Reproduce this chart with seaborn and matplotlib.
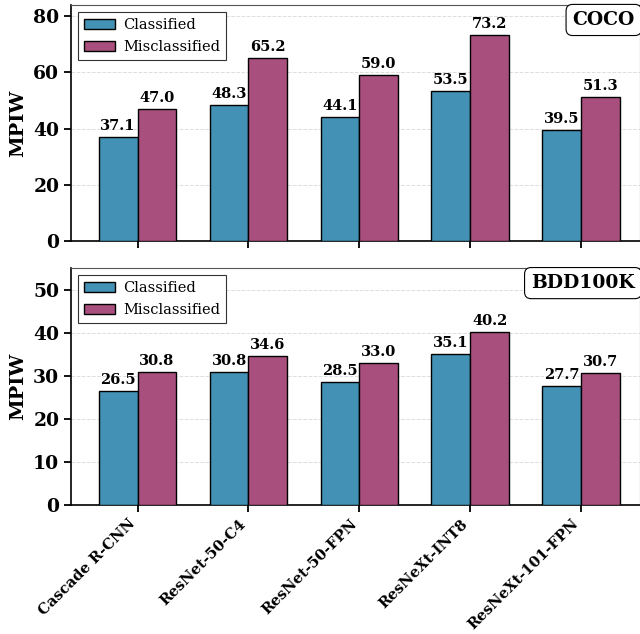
import pandas as pd
import numpy as np
import matplotlib.pyplot as plt
import seaborn as sns

sns.set_style("ticks")
plt.rcParams['font.family'] = ['DejaVu Serif']
plt.rcParams['text.color'] = 'black'
plt.rcParams['xtick.color'] = 'black'
plt.rcParams['ytick.color'] = 'black'
plt.rcParams['axes.labelcolor'] = 'black'

# Data
models = ['Cascade R-CNN', 'ResNet-50-C4', 'ResNet-50-FPN', 'ResNeXt-INT8', 'ResNeXt-101-FPN']
coco_classified = [37.1, 48.3, 44.1, 53.5, 39.5]
coco_misclassified = [47.0, 65.2, 59.0, 73.2, 51.3]
bdd_classified = [26.5, 30.8, 28.5, 35.1, 27.7]
bdd_misclassified = [30.8, 34.6, 33.0, 40.2, 30.7]

colors = ['#4391b5', '#a94f7e']

fig = plt.figure(figsize=(6.4, 6.34), dpi=100)
ax1 = fig.add_axes([0.111, 0.620, 0.889, 0.372])
ax2 = fig.add_axes([0.111, 0.2035, 0.889, 0.3735])

panels = [
    (ax1, coco_classified, coco_misclassified, 'COCO', 84),
    (ax2, bdd_classified, bdd_misclassified, 'BDD100K', 55),
]

for ax, cls, mis, name, ymax in panels:
    df = pd.DataFrame({
        'Model': models * 2,
        'MPIW': cls + mis,
        'Type': ['Classified'] * len(models) + ['Misclassified'] * len(models),
    })
    sns.barplot(data=df, x='Model', y='MPIW', hue='Type', palette=colors,
                width=0.7, edgecolor='black', linewidth=1.0, saturation=1,
                ax=ax, zorder=3)
    for container in ax.containers:
        ax.bar_label(container, fmt='%.1f', padding=3, fontsize=10.5,
                     fontweight='bold', zorder=4)
    ax.set_ylim(0, ymax)
    ax.set_xlim(-0.6, 4.53)
    ax.yaxis.grid(True, linestyle='--', color='#dddddd', linewidth=0.7, zorder=0)
    ax.set_axisbelow(True)
    ax.set_xlabel('')
    ax.set_ylabel('MPIW', fontsize=14, fontweight='bold')
    for lbl in ax.get_yticklabels():
        lbl.set_fontweight('bold')
        lbl.set_fontsize(13.5)
    ax.tick_params(axis='both', length=5, width=1.3)
    for s in ['left', 'bottom']:
        ax.spines[s].set_color('black')
        ax.spines[s].set_linewidth(1.2)
    for s in ['top', 'right']:
        ax.spines[s].set_color('#555555')
        ax.spines[s].set_linewidth(0.8)
    leg = ax.legend(loc='upper left', fontsize=10.5, frameon=True, fancybox=False,
                    edgecolor='#333333', framealpha=1, handlelength=2.1,
                    borderaxespad=0.5, labelspacing=0.55, handletextpad=0.6)
    leg.get_frame().set_linewidth(0.8)
    ax.text(0.991, 0.975, name, transform=ax.transAxes, ha='right', va='top',
            fontsize=13.5, fontweight='bold',
            bbox=dict(boxstyle='round,pad=0.35', facecolor='white', edgecolor='black', linewidth=0.8))

ax1.set_yticks([0, 20, 40, 60, 80])
ax1.set_xticks(range(len(models)))
ax1.set_xticklabels([])
ax2.set_yticks([0, 10, 20, 30, 40, 50])
ax2.set_xticks(range(len(models)))
ax2.set_xticklabels(models, rotation=45, ha='right', fontsize=10.6, fontweight='bold')

fig.savefig('out.png', dpi=100)
